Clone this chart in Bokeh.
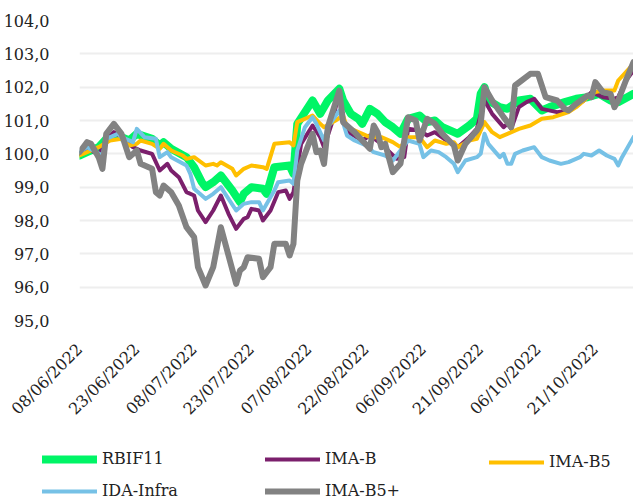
import math
import datetime as dt
from bokeh.plotting import figure
from bokeh.layouts import column
from bokeh.models import (FixedTicker, DatetimeTickFormatter, Legend, LegendItem,
                          Range1d, CustomJSTickFormatter)
from bokeh.embed import file_html
from bokeh.resources import INLINE

START = "08/06/2022"
END = "31/10/2022"
x_tick_labels = ["08/06/2022", "23/06/2022", "08/07/2022", "23/07/2022", "07/08/2022",
                 "22/08/2022", "06/09/2022", "21/09/2022", "06/10/2022", "21/10/2022"]
y_ticks = [95.0, 96.0, 97.0, 98.0, 99.0, 100.0, 101.0, 102.0, 103.0, 104.0]

# days since 08/06/2022
rbif_days = [0, 2, 5, 7, 10, 13, 15, 19, 21, 22, 24, 28, 30, 32, 33, 35, 37, 40, 42, 43, 45, 48, 49,
             51, 55, 56, 57, 59, 61, 63, 65, 68, 69, 71, 73, 74, 76, 78, 80, 82, 84, 86, 89, 91, 93,
             95, 98, 99, 102, 104, 105, 106, 107, 110, 112, 115, 118, 121, 123, 127, 130, 133, 136,
             139, 141, 145]
rbif_vals = [99.95, 100.05, 100.2, 100.45, 100.55, 100.4, 100.6, 100.45, 100.25, 100.35, 100.15, 99.9,
             99.6, 99.15, 99.0, 99.15, 99.35, 98.9, 98.55, 98.8, 99.0, 98.95, 98.8, 99.6, 99.65, 99.4,
             100.9, 101.25, 101.6, 101.2, 101.6, 101.95, 101.6, 101.2, 101.05, 100.9, 101.35, 101.2,
             100.95, 100.8, 100.6, 101.05, 101.15, 100.95, 101.0, 100.8, 100.65, 100.6, 100.85, 101.05,
             101.8, 102.0, 101.6, 101.4, 101.35, 101.6, 101.65, 101.3, 101.4, 101.55, 101.65, 101.7,
             101.8, 101.6, 101.55, 101.8]

imab_days = [0, 2, 5, 7, 9, 11, 14, 16, 19, 21, 23, 24, 26, 28, 30, 31, 33, 35, 37, 39, 41, 43, 44, 45,
             47, 48, 50, 52, 54, 55, 56, 58, 61, 63, 64, 66, 68, 69, 71, 74, 76, 79, 83, 85, 86, 89, 91,
             93, 96, 99, 102, 104, 106, 108, 111, 112, 113, 115, 117, 119, 121, 125, 128, 132, 134, 137,
             140, 141, 143, 145]
imab_vals = [100.0, 100.2, 99.95, 100.45, 100.65, 100.5, 100.2, 100.1, 100.0, 99.5, 99.7, 99.5, 99.3,
             98.85, 98.75, 98.3, 97.95, 98.3, 98.75, 98.2, 97.75, 98.05, 98.1, 98.35, 98.3, 98.0, 98.3,
             98.85, 98.9, 98.65, 98.85, 100.3, 100.85, 100.5, 100.2, 100.9, 101.85, 100.95, 100.6, 100.4,
             100.55, 100.3, 99.85, 99.9, 100.75, 100.7, 100.55, 100.65, 100.4, 100.2, 100.5, 100.75,
             101.6, 101.2, 100.8, 100.9, 100.75, 101.4, 101.55, 101.65, 101.35, 101.25, 101.3, 101.6,
             101.85, 101.7, 101.65, 101.7, 102.2, 102.5]

imab5_days = [0, 2, 5, 8, 11, 13, 15, 16, 19, 21, 22, 24, 27, 28, 30, 33, 35, 36, 37, 40, 41, 43, 45,
              48, 49, 51, 55, 56, 57, 61, 63, 64, 67, 69, 70, 73, 76, 79, 82, 84, 86, 89, 91, 93, 96,
              98, 99, 102, 104, 106, 108, 110, 112, 115, 118, 121, 124, 128, 130, 133, 135, 137, 140,
              141, 145]
imab5_vals = [99.95, 100.05, 100.2, 100.4, 100.45, 100.25, 100.3, 100.4, 100.3, 100.15, 100.3, 100.1,
              99.95, 99.85, 99.9, 99.65, 99.7, 99.65, 99.75, 99.55, 99.35, 99.55, 99.65, 99.6, 99.55,
              100.3, 100.35, 100.25, 100.95, 101.15, 100.9, 100.8, 101.0, 101.15, 100.8, 100.65, 100.5,
              100.5, 100.35, 100.2, 100.5, 100.5, 100.2, 100.4, 100.3, 100.35, 100.2, 100.4, 100.45,
              100.95, 100.65, 100.5, 100.6, 100.75, 100.85, 101.05, 101.1, 101.25, 101.4, 101.7, 101.85,
              101.9, 101.9, 102.2, 102.7]

ida_days = [0, 2, 6, 7, 10, 11, 14, 15, 17, 20, 21, 23, 24, 28, 29, 30, 33, 35, 37, 41, 43, 45, 47, 48,
            51, 52, 55, 56, 57, 59, 61, 62, 64, 65, 68, 70, 72, 75, 77, 80, 82, 84, 86, 89, 90, 92, 94,
            96, 98, 99, 101, 104, 105, 106, 107, 110, 111, 112, 113, 114, 116, 119, 121, 123, 126, 128,
            131, 132, 134, 136, 138, 140, 141, 142, 145]
ida_vals = [100.05, 100.2, 99.95, 100.45, 100.6, 100.5, 100.35, 100.75, 100.5, 100.45, 99.9, 100.05,
            99.9, 99.65, 99.4, 98.95, 98.65, 98.8, 99.0, 98.3, 98.5, 98.55, 98.55, 98.3, 98.9, 99.15,
            99.2, 99.1, 100.1, 100.8, 101.1, 100.9, 100.4, 100.8, 101.3, 100.55, 100.4, 100.25, 100.05,
            99.95, 99.8, 100.1, 100.4, 100.3, 99.9, 100.1, 100.05, 99.9, 99.7, 99.45, 99.8, 99.9, 100.0,
            100.6, 100.3, 99.9, 100.0, 99.7, 99.7, 100.0, 100.1, 100.2, 99.9, 99.8, 99.7, 99.75, 99.9,
            100.0, 99.95, 100.1, 99.95, 99.85, 99.65, 99.9, 100.5]

imab5p_days = [0, 2, 3, 5, 6, 7, 9, 11, 13, 15, 16, 19, 20, 21, 22, 24, 26, 28, 30, 31, 33, 35, 37, 41,
               42, 43, 44, 47, 48, 50, 51, 54, 55, 56, 57, 58, 61, 62, 63, 64, 65, 68, 69, 72, 74, 76,
               77, 78, 79, 80, 82, 84, 86, 88, 89, 91, 93, 95, 98, 99, 101, 104, 105, 106, 108, 111,
               112, 113, 114, 118, 120, 122, 125, 127, 128, 130, 133, 134, 135, 137, 139, 140, 141, 143,
               145]
imab5p_vals = [100.05, 100.35, 100.3, 99.9, 99.55, 100.6, 100.9, 100.6, 99.9, 100.1, 99.7, 99.55, 98.85,
               98.75, 99.05, 98.85, 98.45, 97.8, 97.5, 96.6, 96.05, 96.6, 97.8, 96.1, 96.5, 96.6, 96.9,
               96.85, 96.3, 96.6, 97.3, 97.3, 96.95, 97.3, 99.2, 99.7, 100.6, 100.05, 100.1, 99.7, 100.8,
               101.9, 100.95, 100.65, 100.4, 100.15, 100.85, 100.65, 100.2, 100.3, 99.45, 99.7, 101.1,
               101.0, 100.4, 101.05, 100.9, 100.6, 100.25, 99.8, 100.3, 100.7, 100.9, 102.0, 101.6,
               101.1, 100.95, 100.8, 102.05, 102.4, 102.4, 101.7, 101.6, 101.35, 101.3, 101.5, 101.75,
               101.7, 102.15, 101.85, 101.8, 101.4, 101.6, 102.2, 102.75]

series = [
    ("RBIF11", rbif_days, rbif_vals, "#00F566", 8),
    ("IMA-B", imab_days, imab_vals, "#7B1F6C", 4),
    ("IMA-B5", imab5_days, imab5_vals, "#FFBF00", 4),
    ("IDA-Infra", ida_days, ida_vals, "#76C1E6", 4),
    ("IMA-B5+", imab5p_days, imab5p_vals, "#828282", 6),
]

def parse(s):
    return dt.datetime.strptime(s, "%d/%m/%Y")

start = parse(START)
end = parse(END)

FONT = "DejaVu Serif"

def no_frame_align(fig):
    if "frame_align" in fig.properties():
        fig.frame_align = False

# ---- main chart ----
p = figure(width=633, height=433, x_axis_type="datetime", output_backend="svg",
           toolbar_location=None, min_border_left=76, min_border_right=0,
           min_border_top=20, min_border_bottom=113,
           x_range=Range1d(start, end), y_range=Range1d(95, 104))
no_frame_align(p)
p.outline_line_color = None
p.background_fill_color = "white"
p.border_fill_color = "white"

series_xy = []
for name, days, vals, color, width in series:
    assert len(days) == len(vals), name
    xs = [start + dt.timedelta(days=d) for d in days]
    series_xy.append((name, xs, vals, color, width))
    p.line(xs, vals, line_color=color, line_width=width, line_join="round", line_cap="round")

epoch = dt.datetime(1970, 1, 1)
tick_ms = [(parse(s) - epoch).total_seconds() * 1000 for s in x_tick_labels]
p.xaxis.ticker = FixedTicker(ticks=tick_ms)
fmt = "%d/%m/%Y"
p.xaxis.formatter = DatetimeTickFormatter(milliseconds=fmt, seconds=fmt, minsec=fmt, minutes=fmt,
                                          hourmin=fmt, hours=fmt, days=fmt, months=fmt, years=fmt)
p.xaxis.major_label_orientation = math.pi / 4
p.yaxis.ticker = FixedTicker(ticks=y_ticks)
p.yaxis.formatter = CustomJSTickFormatter(code="return tick.toFixed(1).replace('.', ',');")

for ax in (p.xaxis[0], p.yaxis[0]):
    ax.axis_line_color = None
    ax.major_tick_line_color = None
    ax.minor_tick_line_color = None
    ax.major_label_text_font = FONT
    ax.major_label_text_font_size = "16px"
    ax.major_label_text_color = "#222222"
p.yaxis.major_label_standoff = 24
p.xaxis.major_label_standoff = 20

p.xgrid.grid_line_color = None
p.ygrid.ticker = FixedTicker(ticks=y_ticks[1:])
p.ygrid.grid_line_color = "#eeeeee"
p.ygrid.grid_line_width = 2

# ---- legend strip: same series, ranges set so only the legend shows ----
lp = figure(width=633, height=67, output_backend="svg", toolbar_location=None,
            x_axis_location=None, y_axis_location=None,
            x_range=Range1d(0, 1), y_range=Range1d(0, 1),
            min_border_left=0, min_border_right=0, min_border_top=0, min_border_bottom=0)
no_frame_align(lp)
lp.outline_line_color = None
lp.grid.visible = False
lp.background_fill_color = "white"
lp.border_fill_color = "white"

items = {}
for name, xs, vals, color, width in series_xy:
    r = lp.line(xs, vals, line_color=color, line_width=width, line_cap="round")
    items[name] = LegendItem(label=name, renderers=[r])

columns = [(["RBIF11", "IDA-Infra"], (42, 0)),
           (["IMA-B", "IMA-B5+"], (265, 0)),
           (["IMA-B5"], (489, 29))]
for names, loc in columns:
    lg = Legend(items=[items[n] for n in names], location=loc, orientation="vertical",
                glyph_width=55, glyph_height=16, label_height=16,
                label_standoff=5, spacing=13, padding=0, margin=0,
                border_line_color=None, background_fill_alpha=0,
                label_text_font=FONT, label_text_font_size="16px", label_text_color="#222222")
    lp.add_layout(lg, "center")

layout = column(p, lp, spacing=0)
open("out.html", "w").write(file_html(layout, INLINE))
